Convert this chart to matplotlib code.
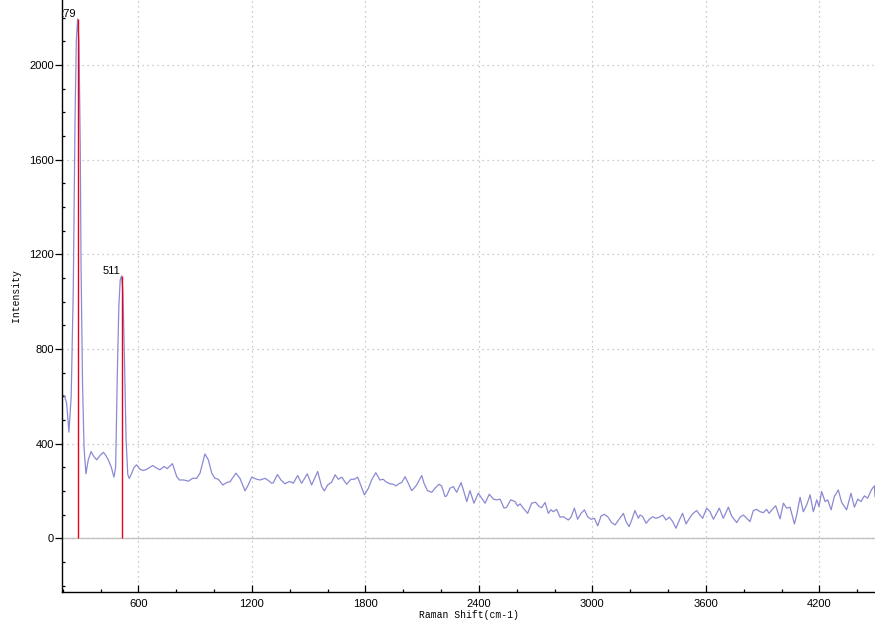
import matplotlib
matplotlib.use("Agg")
import matplotlib.pyplot as plt
from matplotlib.ticker import MultipleLocator

# Raman spectrum
shift = [198, 209, 221, 233, 245, 256, 265, 272, 279, 286, 293, 297, 305, 313, 323,
         335, 350, 365, 380, 398, 415, 428, 441, 457, 471, 480, 489, 497, 504, 511,
         518, 526, 535, 544, 552, 565, 578, 591,
         609, 626, 644, 676, 697, 714, 736, 753, 780, 803, 817, 841, 864, 887, 908,
         926, 952, 970, 988, 1005, 1023, 1046, 1067, 1085, 1116, 1137, 1164, 1181,
         1199, 1226, 1243,
         1270, 1287, 1305, 1314, 1335, 1354, 1375, 1396, 1410, 1419, 1442, 1463,
         1493, 1516, 1548, 1569, 1583, 1601, 1622, 1640, 1657, 1675, 1701, 1724,
         1742, 1759, 1772, 1795, 1816, 1833, 1855, 1877, 1895, 1907,
         1930, 1948, 1962, 1980, 1992, 2010, 2027, 2045, 2057, 2071, 2098, 2110,
         2128, 2151, 2168, 2189, 2203, 2221, 2230, 2247, 2265, 2283, 2306, 2318,
         2336, 2353, 2374, 2397, 2415, 2433, 2455, 2477, 2494, 2512, 2533, 2547,
         2568,
         2591, 2605, 2618, 2635, 2658, 2679, 2700, 2718, 2732, 2750, 2767, 2781,
         2794, 2811, 2829, 2847, 2859, 2873, 2887, 2905, 2922, 2940, 2958, 2975,
         2993, 3011, 3028, 3046, 3063, 3081, 3102, 3120, 3141, 3164, 3178, 3194,
         3208, 3225, 3243,
         3252, 3266, 3284, 3301, 3319, 3336, 3354, 3372, 3389, 3407, 3425, 3442,
         3460, 3477, 3495, 3513, 3530, 3551, 3569, 3583, 3604, 3622, 3640, 3671,
         3692, 3719, 3736, 3763, 3781, 3798, 3816, 3833, 3851, 3869,
         3886, 3904, 3921, 3934, 3951, 3969, 3992, 4010, 4027, 4045, 4068, 4080,
         4098, 4115, 4133, 4151, 4168, 4186, 4198, 4212, 4230, 4244, 4262, 4279,
         4300, 4318, 4344, 4367, 4385, 4403, 4420, 4438, 4455, 4477, 4491, 4494]
intensity = [605, 602, 570, 448, 600, 1050, 1750, 2100, 2194, 2100, 1650, 1150, 650, 380, 272,
             330, 366, 345, 331, 350, 363, 350, 331, 300, 258, 300, 700, 980, 1090, 1108,
             1050, 780, 420, 270, 252, 275, 300, 310,
             291, 286, 291, 307, 296, 289, 303, 294, 315, 260, 246, 246, 241, 253, 253,
             275, 356, 331, 275, 253, 249, 225, 235, 239, 275, 253, 200, 225,
             258, 249, 246,
             253, 244, 232, 235, 269, 246, 230, 239, 237, 232, 265, 232,
             272, 225, 282, 218, 200, 225, 237, 268, 249, 258, 228, 249,
             249, 258, 232, 183, 211, 246, 277, 246, 249, 239,
             230, 228, 221, 232, 235, 260, 232, 201, 211, 225, 265, 232,
             201, 194, 211, 228, 221, 176, 179, 211, 218, 194, 235, 204,
             155, 201, 148, 190, 169, 148, 186, 165, 162, 165, 127, 131,
             162,
             155, 136, 145, 127, 105, 148, 152, 134, 129, 151, 105, 120,
             112, 122, 89, 91, 84, 77, 89, 127, 80, 105, 120, 91,
             80, 84, 52, 94, 101, 91, 66, 56, 80, 105, 70, 49,
             77, 117, 84,
             98, 91, 63, 80, 91, 84, 89, 98, 77, 89, 70, 42,
             77, 105, 60, 84, 103, 117, 98, 84, 127, 112, 80, 127,
             84, 131, 94, 66, 89, 98, 84, 70, 117, 122,
             112, 108, 122, 105, 122, 137, 82, 148, 127, 131, 60, 98,
             173, 112, 141, 183, 112, 162, 134, 197, 155, 162, 120, 176,
             204, 151, 120, 190, 131, 165, 155, 179, 169, 207, 221, 176]

peak_pos = [279, 511]
peak_int = [2194, 1108]
peak_labels = ["279", "511"]

fig = plt.figure(figsize=(8.75, 6.3), dpi=100)
ax = fig.add_axes([62.3 / 875, (630 - 591.7) / 630, 1 - 62.3 / 875, 591.7 / 630])

ax.set_xlim(198, 4494)
ax.set_ylim(-226, 2274)

ax.axhline(0, color='#c4c4c4', lw=1.0, zorder=1)
ax.plot(shift, intensity, color='#8a8ad4', lw=0.9, zorder=2)
ax.vlines(peak_pos, 0, peak_int, color='#e8001c', lw=1.0, zorder=3)
for xp, yp, lab in zip(peak_pos, peak_int, peak_labels):
    ax.text(xp - 8, yp, lab, ha='right', va='bottom', fontsize=8,
            family='Liberation Sans', clip_on=True, zorder=4)

ax.xaxis.set_major_locator(MultipleLocator(600))
ax.xaxis.set_minor_locator(MultipleLocator(200))
ax.yaxis.set_major_locator(MultipleLocator(400))
ax.yaxis.set_minor_locator(MultipleLocator(100))

ax.grid(True, which='major', linestyle=(0, (1, 3)), color='#bbbbbb', lw=0.9, zorder=0)

for s in ['top', 'right']:
    ax.spines[s].set_visible(False)
for s in ['left', 'bottom']:
    ax.spines[s].set_linewidth(1.0)
    ax.spines[s].set_color('black')

ax.tick_params(axis='x', which='major', direction='in', length=5, width=0.9, pad=5)
ax.tick_params(axis='x', which='minor', direction='in', length=2.5, width=0.9)
ax.tick_params(axis='y', which='major', direction='out', length=5, width=0.9, pad=1)
ax.tick_params(axis='y', which='minor', direction='in', length=2.5, width=0.9)
for lab in ax.get_xticklabels() + ax.get_yticklabels():
    lab.set_family('Liberation Sans')
    lab.set_fontsize(8)

ax.set_xlabel('Raman Shift(cm-1)', family='Liberation Mono', fontsize=7, labelpad=1)
ax.set_ylabel('Intensity', family='Liberation Mono', fontsize=7, labelpad=6)

fig.savefig('out.png', dpi=100)
